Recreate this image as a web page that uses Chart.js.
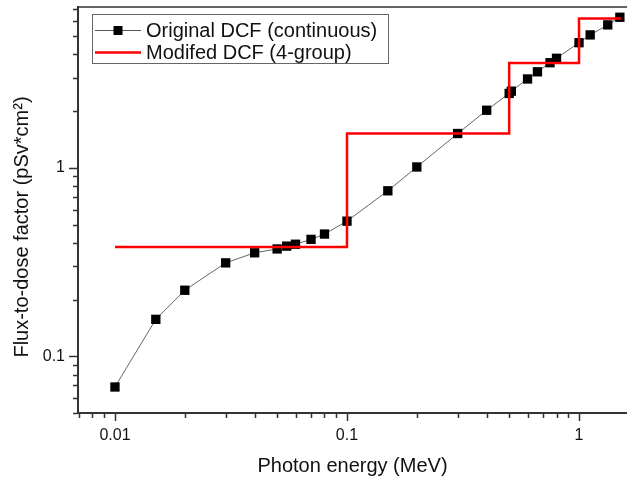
<!doctype html>
<html>

<head>
	<title>Flux-to-dose factor</title>
	<script src="https://cdn.jsdelivr.net/npm/chart.js@4/dist/chart.umd.min.js"></script>
	<style>
	body {
		margin: 0;
		background: #fff;
	}
	.chart-container {
		width: 627px;
		height: 479px;
	}
	</style>
</head>

<body>
	<div class="chart-container">
		<canvas id="chart" width="627" height="479"></canvas>
	</div>
	<script>
		// original conversion factors (continuous)
		var energies = [0.01, 0.015, 0.02, 0.03, 0.04, 0.05, 0.055, 0.06, 0.07, 0.08, 0.1, 0.15, 0.2,
			0.3, 0.4, 0.5, 0.511, 0.6, 0.662, 0.75, 0.8, 1.0, 1.117, 1.33, 1.5];
		var dcfValues = [0.0687, 0.157, 0.224, 0.313, 0.354, 0.371, 0.384, 0.393, 0.417, 0.445, 0.521, 0.755, 1.01,
			1.52, 2.02, 2.48, 2.55, 2.96, 3.23, 3.61, 3.81, 4.61, 5.07, 5.73, 6.29];

		// 4-group step function
		var groupEdges = [0.01, 0.1, 0.5, 1.0, 1.52];
		var groupValues = [0.38, 1.52, 3.6, 6.2, 6.2];

		var xRange = [0.00693, 1.61];
		var yRange = [0.05, 7.13];
		var decadeLabels = ['0.01', '0.1', '1'];

		var FONT = '"Liberation Sans", Arial, sans-serif';
		var AXIS_COLOR = '#333';

		function isDecade(v) {
			var l = Math.log10(v);
			return Math.abs(l - Math.round(l)) < 1e-6;
		}

		function decadeLabel(v) {
			if (!isDecade(v)) return '';
			return decadeLabels[Math.round(Math.log10(v)) + 2] || '';
		}

		function logTicks(min, max) {
			var out = [];
			for (var e = Math.floor(Math.log10(min)); e <= Math.ceil(Math.log10(max)); e++) {
				for (var k = 1; k <= 9; k++) {
					var v = k * Math.pow(10, e);
					if (v >= min * 0.999 && v <= max * 1.001) {
						out.push({value: v, major: k === 1});
					}
				}
			}
			return out;
		}

		// the empty minor labels still make chart.js reserve room, drop it
		function noPadding(scale) {
			scale.paddingLeft = 0;
			scale.paddingRight = 0;
			scale.paddingTop = 0;
			scale.paddingBottom = 0;
		}

		var framePlugin = {
			id: 'frame',
			afterDraw: function(chart) {
				var ctx = chart.ctx;
				var area = chart.chartArea;
				var xs = chart.scales.x;
				var ys = chart.scales.y;
				ctx.save();
				ctx.strokeStyle = AXIS_COLOR;
				ctx.lineWidth = 1.5;
				ctx.beginPath();
				// top frame line
				ctx.moveTo(area.left, area.top);
				ctx.lineTo(area.right, area.top);
				logTicks(xRange[0], xRange[1]).forEach(function(t) {
					var px = Math.round(xs.getPixelForValue(t.value)) + 0.5;
					ctx.moveTo(px, area.bottom);
					ctx.lineTo(px, area.bottom + (t.major ? 8 : 5));
				});
				logTicks(yRange[0], yRange[1]).forEach(function(t) {
					var py = Math.round(ys.getPixelForValue(t.value)) + 0.5;
					ctx.moveTo(area.left, py);
					ctx.lineTo(area.left - (t.major ? 9 : 5), py);
				});
				ctx.stroke();

				// axis titles
				ctx.fillStyle = '#111';
				ctx.font = '20px ' + FONT;
				ctx.textAlign = 'center';
				ctx.textBaseline = 'middle';
				ctx.fillText('Photon energy (MeV)', (area.left + area.right) / 2, 466);
				ctx.translate(22, 227);
				ctx.rotate(-Math.PI / 2);
				ctx.fillText('Flux-to-dose factor (pSv*cm\u00b2)', 0, 0);
				ctx.restore();

				// legend box
				ctx.save();
				var lx = 92, ly = 14, lw = 296, lh = 49;
				ctx.fillStyle = '#fff';
				ctx.fillRect(lx, ly, lw, lh);
				ctx.strokeStyle = '#666';
				ctx.lineWidth = 1;
				ctx.strokeRect(lx + 0.5, ly + 0.5, lw, lh);
				var rows = [
					{label: chart.data.datasets[0].label, y: 30.5, color: '#555', width: 1, marker: true},
					{label: chart.data.datasets[1].label, y: 52.5, color: '#ff0000', width: 2.5, marker: false}
				];
				rows.forEach(function(r) {
					ctx.strokeStyle = r.color;
					ctx.lineWidth = r.width;
					ctx.beginPath();
					ctx.moveTo(95, r.y);
					ctx.lineTo(141, r.y);
					ctx.stroke();
					if (r.marker) {
						ctx.fillStyle = '#000';
						ctx.fillRect(113.5, r.y - 4.5, 9, 9);
					}
					ctx.fillStyle = '#111';
					ctx.font = '20px ' + FONT;
					ctx.textAlign = 'left';
					ctx.textBaseline = 'middle';
					ctx.fillText(r.label, 146, r.y + 1);
				});
				ctx.restore();
			}
		};

		window.onload = function() {
			var ctx = document.getElementById('chart').getContext('2d');
			var continuous = energies.map(function(e, i) {
				return {x: e, y: dcfValues[i]};
			});
			var groups = groupEdges.map(function(e, i) {
				return {x: e, y: groupValues[i]};
			});

			new Chart(ctx, {
				type: 'line',
				data: {
					datasets: [{
						label: 'Original DCF (continuous)',
						data: continuous,
						borderColor: '#666',
						borderWidth: 1,
						pointStyle: 'rect',
						pointRadius: 6.6,
						pointBackgroundColor: '#000',
						pointBorderColor: '#000',
						pointBorderWidth: 0,
						fill: false,
						clip: 8,
						order: 2
					}, {
						label: 'Modifed DCF (4-group)',
						data: groups,
						stepped: 'before',
						borderColor: '#ff0000',
						borderWidth: 2.5,
						pointRadius: 0,
						fill: false,
						order: 1
					}]
				},
				options: {
					responsive: false,
					animation: false,
					layout: {
						autoPadding: false,
						padding: {top: 7, right: 0, left: 0, bottom: 0}
					},
					plugins: {
						legend: {display: false},
						tooltip: {enabled: false}
					},
					scales: {
						x: {
							type: 'logarithmic',
							min: xRange[0],
							max: xRange[1],
							grid: {display: false, drawTicks: false},
							border: {display: true, color: AXIS_COLOR, width: 2},
							ticks: {
								autoSkip: false,
								maxRotation: 0,
								padding: 13,
								color: '#111',
								font: {family: FONT, size: 16},
								callback: decadeLabel
							},
							afterFit: function(scale) {
								scale.height = 66;
								noPadding(scale);
							}
						},
						y: {
							type: 'logarithmic',
							min: yRange[0],
							max: yRange[1],
							grid: {display: false, drawTicks: false},
							border: {display: true, color: AXIS_COLOR, width: 2},
							ticks: {
								autoSkip: false,
								padding: 13,
								color: '#111',
								font: {family: FONT, size: 16},
								callback: decadeLabel
							},
							afterFit: function(scale) {
								scale.width = 78;
								noPadding(scale);
							}
						}
					}
				},
				plugins: [framePlugin]
			});
		};
	</script>
</body>

</html>
